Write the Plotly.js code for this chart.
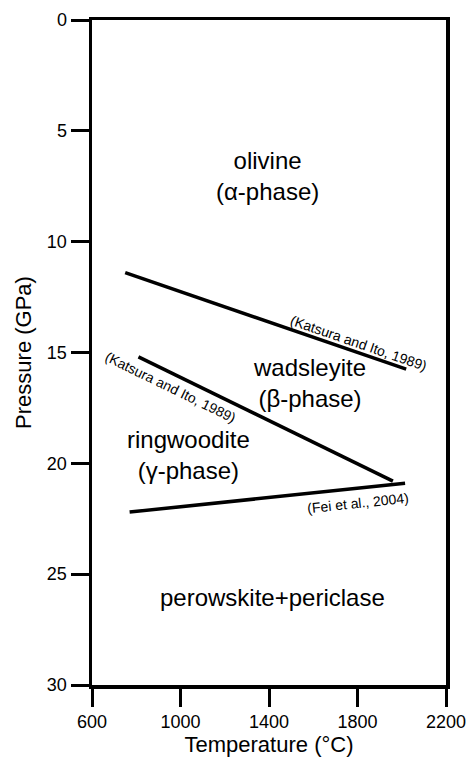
<!DOCTYPE html>
<html>
<head>
<meta charset="utf-8">
<script src="https://cdn.plot.ly/plotly-3.0.1.min.js"></script>
<style>html,body{margin:0;padding:0;background:#fff;}#chart{width:468px;height:758px;}</style>
</head>
<body>
<div id="chart"></div>
<script>
// Phase boundaries (Temperature °C, Pressure GPa)
const olWadT = [750, 2020];
const olWadP = [11.4, 15.75];
const wadRingT = [810, 1960];
const wadRingP = [15.2, 20.8];
const ringPvT = [770, 2015];
const ringPvP = [22.2, 20.9];

// Phase field labels
const phaseLabels = ["olivine<br>(α-phase)", "wadsleyite<br>(β-phase)", "ringwoodite<br>(γ-phase)", "perowskite+periclase"];
const phaseT = [1395, 1585, 1034, 1418];
const phaseP = [7.04, 16.37, 19.62, 26.03];

// Reference labels
const refLabels = ["(Katsura and Ito, 1989)", "(Katsura and Ito, 1989)", "(Fei et al., 2004)"];
const refT = [1805, 953, 1802];
const refP = [14.57, 16.55, 21.79];
const refAngle = [19, 26, -6];

const xTicks = [600, 1000, 1400, 1800, 2200];
const yTicks = [0, 5, 10, 15, 20, 25, 30];

const FONT = 'Liberation Sans, Arial, sans-serif';
const lineStyle = {color: '#000', width: 3.5};
const traces = [
  {x: olWadT, y: olWadP, mode: 'lines', line: lineStyle, hoverinfo: 'skip'},
  {x: wadRingT, y: wadRingP, mode: 'lines', line: lineStyle, hoverinfo: 'skip'},
  {x: ringPvT, y: ringPvP, mode: 'lines', line: lineStyle, hoverinfo: 'skip'}
];

const annotations = [];
phaseLabels.forEach((t, i) => annotations.push({
  x: phaseT[i], y: phaseP[i], text: t, showarrow: false,
  font: {size: 24, color: '#000', family: FONT}
}));
refLabels.forEach((t, i) => annotations.push({
  x: refT[i], y: refP[i], text: t, showarrow: false, textangle: refAngle[i],
  font: {size: 14, color: '#000', family: FONT}
}));

const layout = {
  width: 468, height: 758,
  margin: {l: 92, r: 22, t: 20, b: 73},
  paper_bgcolor: '#fff', plot_bgcolor: '#fff',
  showlegend: false,
  font: {family: FONT, color: '#000'},
  xaxis: {
    range: [600, 2200], tickvals: xTicks, ticktext: xTicks.map(String),
    showgrid: false, zeroline: false,
    showline: true, linewidth: 3.5, linecolor: '#000', mirror: true,
    ticks: 'outside', ticklen: 18, tickwidth: 3, tickcolor: '#000',
    tickfont: {size: 18},
    title: {text: 'Temperature (°C)', font: {size: 22}, standoff: 6}
  },
  yaxis: {
    range: [30, 0], tickvals: yTicks, ticktext: yTicks.map(String),
    showgrid: false, zeroline: false,
    showline: true, linewidth: 3.5, linecolor: '#000', mirror: true,
    ticks: 'outside', ticklen: 18, tickwidth: 3, tickcolor: '#000',
    tickfont: {size: 18},
    title: {text: 'Pressure (GPa)', font: {size: 22}, standoff: 10}
  },
  annotations: annotations
};

Plotly.newPlot('chart', traces, layout, {displayModeBar: false, staticPlot: true});
</script>
</body>
</html>
